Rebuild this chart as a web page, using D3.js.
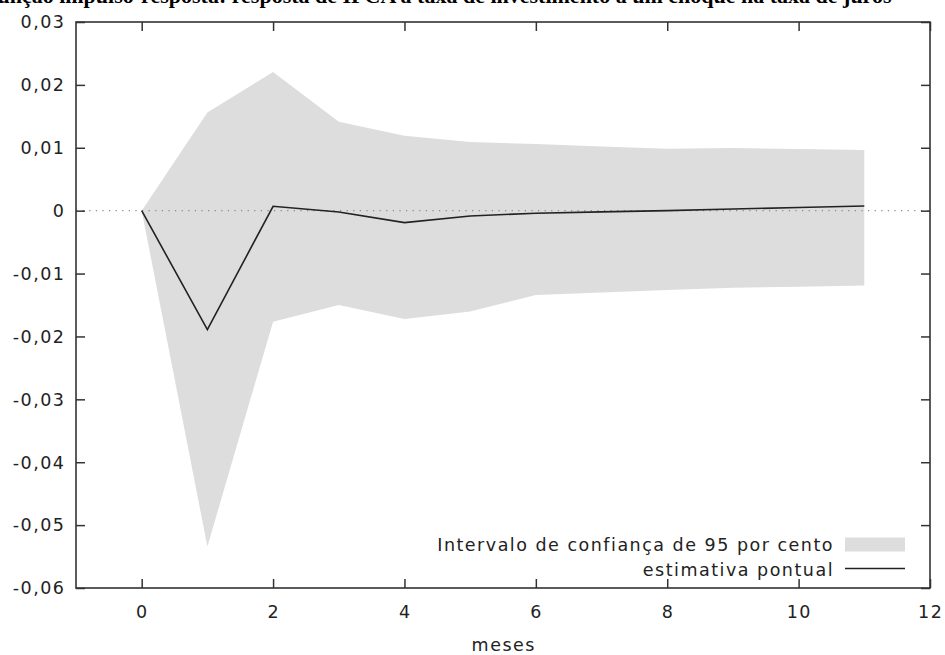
<!DOCTYPE html>
<html><head><meta charset="utf-8">
<script src="https://cdn.jsdelivr.net/npm/d3@7"></script>
<style>
html,body{margin:0;padding:0;background:#fff;}
svg{display:block;}
text{font-family:"DejaVu Sans",Verdana,sans-serif;}
</style></head>
<body>
<svg id="chart" width="945" height="655"></svg>
<script>
const months = [0,1,2,3,4,5,6,7,8,9,10,11];
const estimate = [0,-0.0189,0.0007,-0.0002,-0.0019,-0.00085,-0.0004,-0.0002,0.0,0.00027,0.0005,0.00075];
const upper = [0,0.0156,0.02205,0.01415,0.0119,0.0109,0.0106,0.0102,0.00986,0.00997,0.0098,0.00965];
const lower = [0,-0.0534,-0.01765,-0.0150,-0.01722,-0.01605,-0.0134,-0.0130,-0.0126,-0.01224,-0.0121,-0.0119];
const xTicks = [0,2,4,6,8,10,12];
const yTicks = [0.03,0.02,0.01,0,-0.01,-0.02,-0.03,-0.04,-0.05,-0.06];
const title = "Função impulso-resposta: resposta de IPCA à taxa de investimento a um choque na taxa de juros";
const xLabel = "meses";
const legendBand = "Intervalo de confiança de 95 por cento";
const legendLine = "estimativa pontual";

const svg = d3.select("#chart");
const x = d3.scaleLinear().domain([-1,12]).range([76,930]);
const y = d3.scaleLinear().domain([-0.06,0.03]).range([588,22]);
const fmt = v => (Math.abs(v)<1e-12 ? "0" : d3.format(".2f")(v).replace(".",",").replace("−","-"));

// title (cut off at top, as in the reference)
svg.append("text").attr("x",-16).attr("y",2.5)
  .style("font-family","'Liberation Serif','Times New Roman',serif")
  .style("font-weight","bold").style("font-size","22px").attr("fill","#000")
  .text(title);

const rows = months.map((m,i)=>({m, e:estimate[i], u:upper[i], l:lower[i]}));

// band
svg.append("path").datum(rows)
  .attr("fill","#dddddd")
  .attr("d", d3.area().x(d=>x(d.m)).y0(d=>y(d.l)).y1(d=>y(d.u)));

// zero line dotted
svg.append("line").attr("x1",x(-1)).attr("x2",x(12)).attr("y1",y(0)).attr("y2",y(0))
  .attr("stroke","#888").attr("stroke-width",1.2).attr("stroke-dasharray","1.2,5.4");

// estimate line
svg.append("path").datum(rows)
  .attr("fill","none").attr("stroke","#222").attr("stroke-width",1.6)
  .attr("d", d3.line().x(d=>x(d.m)).y(d=>y(d.e)));

// axes (ticks inward, mirrored)
const tl = 9;
const axB = d3.axisBottom(x).tickValues(xTicks).tickSize(-tl).tickFormat("");
const axT = d3.axisTop(x).tickValues(xTicks).tickSize(-tl).tickFormat("");
const axL = d3.axisLeft(y).tickValues(yTicks).tickSize(-tl).tickFormat("");
const axR = d3.axisRight(y).tickValues(yTicks).tickSize(-tl).tickFormat("");
[[axB,`translate(0,${y(-0.06)})`],[axT,`translate(0,${y(0.03)})`],[axL,`translate(${x(-1)},0)`],[axR,`translate(${x(12)},0)`]]
.forEach(([ax,tr])=>{
  const g = svg.append("g").attr("transform",tr).call(ax);
  g.select(".domain").remove();
  g.selectAll(".tick line").attr("stroke","#333").attr("stroke-width",1.5);
});
svg.append("rect").attr("x",x(-1)).attr("y",y(0.03)).attr("width",x(12)-x(-1)).attr("height",y(-0.06)-y(0.03))
  .attr("fill","none").attr("stroke","#333").attr("stroke-width",1.6);

// tick labels
const ls = "1.5px", fs = "17.5px";
svg.append("g").selectAll("text").data(yTicks).join("text")
  .attr("x",65.5).attr("y",d=>y(d)).attr("dy","0.36em").attr("text-anchor","end")
  .style("font-size",fs).style("letter-spacing",ls).attr("fill","#222").text(fmt);
svg.append("g").selectAll("text").data(xTicks).join("text")
  .attr("x",d=>x(d)+0.75).attr("y",618).attr("text-anchor","middle")
  .style("font-size",fs).style("letter-spacing",ls).attr("fill","#222").text(d=>String(d));
svg.append("text").attr("x",(x(-1)+x(12))/2+0.75).attr("y",651).attr("text-anchor","middle")
  .style("font-size",fs).style("letter-spacing",ls).attr("fill","#222").text(xLabel);

// legend
svg.append("text").attr("x",834).attr("y",550.5).attr("text-anchor","end")
  .style("font-size",fs).style("letter-spacing",ls).attr("fill","#222").text(legendBand);
svg.append("rect").attr("x",845).attr("y",537.5).attr("width",60).attr("height",14).attr("fill","#dddddd");
svg.append("text").attr("x",834).attr("y",575.5).attr("text-anchor","end")
  .style("font-size",fs).style("letter-spacing",ls).attr("fill","#222").text(legendLine);
svg.append("line").attr("x1",845).attr("x2",905).attr("y1",568.5).attr("y2",568.5)
  .attr("stroke","#222").attr("stroke-width",1.5);
</script>
</body></html>
